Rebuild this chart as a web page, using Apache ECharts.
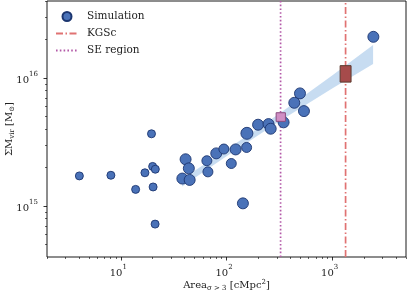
<!DOCTYPE html>
<html><head><meta charset="utf-8">
<script src="https://cdn.jsdelivr.net/npm/echarts@6/dist/echarts.min.js"></script>
<style>html,body{margin:0;padding:0;background:#fff}#c{width:409px;height:292px}</style>
</head><body><div id="c"></div>
<script>
// ---- data ----
const simArea = [4.05, 8.05, 16.9, 13.8, 19.5, 20.0, 21.2, 20.2, 21.1, 41, 44, 38.2, 44.8, 65.2, 66.7, 80, 94.4, 111, 122, 155, 156, 199, 250, 262, 347, 438, 496, 541, 2455, 143];
const simMass15 = [1.72, 1.74, 1.82, 1.35, 3.67, 2.04, 1.94, 1.41, 0.723, 2.32, 1.97, 1.64, 1.60, 2.26, 1.85, 2.58, 2.79, 2.15, 2.77, 2.87, 3.70, 4.32, 4.37, 4.02, 4.51, 6.41, 7.59, 5.52, 21.0, 1.05];
const simSize = [8, 8, 8, 8, 8, 8, 8, 8, 8, 11, 11, 11, 11, 10, 10, 11, 10, 10, 11, 10, 12, 11, 11, 11, 11, 11, 11, 11, 11, 11];
const bandArea = [38, 100, 320, 1000, 2440];
const bandLow15 = [1.42, 2.45, 4.62, 8.3, 12.85];
const bandHigh15 = [1.63, 2.75, 5.31, 10.45, 18.15];
const kgscArea = 1340;
const kgscBox = [1190, 1510, 9.3, 12.5];   // areaLo, areaHi, massLo(1e15), massHi(1e15)
const seArea = 325;
const seBox = [295, 361, 4.59, 5.36];
const xRange = [2, 5000];
const yRange = [4e14, 4e16];
const xMajor = [10, 100, 1000];
const xMinor = [2,3,4,5,6,7,8,9,20,30,40,50,60,70,80,90,200,300,400,500,600,700,800,900,2000,3000,4000,5000];
const yMajor = [1e15, 1e16];
const yMinor = [5e14,6e14,7e14,8e14,9e14,2e15,3e15,4e15,5e15,6e15,7e15,8e15,9e15,2e16,3e16,4e16];

const L = Math.log10;
const F = 'DejaVu Serif';
const xMin = L(xRange[0]), xMax = L(xRange[1]), yMin = L(yRange[0]), yMax = L(yRange[1]);

const supRich = {
  b: {fontSize: 10, fontFamily: F, color: '#222', lineHeight: 14, verticalAlign: 'bottom'},
  s: {fontSize: 7, fontFamily: F, color: '#222', lineHeight: 7, verticalAlign: 'top'}
};
const expFmt = v => '{b|10}{s|' + Math.round(v) + '}';
const hidden = {color: 'rgba(0,0,0,0)', borderWidth: 0, opacity: 0};

const chart = echarts.init(document.getElementById('c'));
chart.setOption({
  animation: false,
  grid: {left: 47, right: 3, top: 1, bottom: 35, show: true, borderColor: '#000', borderWidth: 0.9,
         backgroundColor: 'transparent', containLabel: false, outerBoundsMode: 'none'},
  legend: {
    orient: 'vertical', left: 50, top: 6, itemWidth: 22, itemHeight: 9, itemGap: 6,
    textStyle: {fontFamily: F, fontSize: 10.5, color: '#222', padding: [0, 0, 0, 4]},
    data: [
      {name: 'Simulation'},
      {name: 'KGSc', itemStyle: hidden},
      {name: 'SE region', itemStyle: hidden}
    ]
  },
  xAxis: [{
    type: 'value', min: xMin, max: xMax, position: 'bottom',
    axisLine: {show: false}, splitLine: {show: false},
    axisTick: {show: true, customValues: xMajor.map(L), length: 3.5, lineStyle: {color: '#000', width: 0.8}},
    axisLabel: {customValues: xMajor.map(L), formatter: expFmt, rich: supRich, margin: 7, padding: [0, 5, 0, 0]},
    name: '{a|Area}{sub|σ > 3}{a| [cMpc}{sup|2}{a|]}', nameLocation: 'middle', nameGap: 21.5, nameMoveOverlap: false,
    nameTextStyle: {rich: {
      a: {fontSize: 10, fontFamily: F, color: '#222', lineHeight: 13},
      sub: {fontSize: 7, fontFamily: F, color: '#222', lineHeight: 7, verticalAlign: 'bottom'},
      sup: {fontSize: 7, fontFamily: F, color: '#222', lineHeight: 7, verticalAlign: 'top'}
    }}
  }, {
    type: 'value', min: xMin, max: xMax, position: 'bottom',
    axisLine: {show: false}, splitLine: {show: false}, axisLabel: {show: false},
    axisTick: {show: true, customValues: xMinor.map(L), length: 2, lineStyle: {color: '#000', width: 0.6}}
  }],
  yAxis: [{
    type: 'value', min: yMin, max: yMax, position: 'left',
    axisLine: {show: false}, splitLine: {show: false},
    axisTick: {show: true, customValues: yMajor.map(L), length: 3.5, lineStyle: {color: '#000', width: 0.8}},
    axisLabel: {customValues: yMajor.map(L), formatter: expFmt, rich: supRich, margin: 9},
    name: '{a|ΣM}{sub|vir}{a| [M}{sub|⊙}{a|]}', nameLocation: 'middle', nameGap: 31, nameRotate: 90, nameMoveOverlap: false,
    nameTextStyle: {rich: {
      a: {fontSize: 10, fontFamily: F, color: '#222', lineHeight: 13},
      sub: {fontSize: 7, fontFamily: F, color: '#222', lineHeight: 7, verticalAlign: 'bottom'}
    }}
  }, {
    type: 'value', min: yMin, max: yMax, position: 'left',
    axisLine: {show: false}, splitLine: {show: false}, axisLabel: {show: false},
    axisTick: {show: true, customValues: yMinor.map(L), length: 2, lineStyle: {color: '#000', width: 0.6}}
  }],
  series: [
    {
      name: 'band', type: 'custom', z: 1, data: [0], silent: true,
      renderItem: (params, api) => {
        const up = bandArea.map((a, i) => api.coord([L(a), L(bandHigh15[i] * 1e15)]));
        const lo = bandArea.map((a, i) => api.coord([L(a), L(bandLow15[i] * 1e15)])).reverse();
        return {type: 'polygon', shape: {points: up.concat(lo)}, style: {fill: 'rgba(130,178,224,0.45)'}};
      }
    },
    {
      name: 'KGSc', type: 'line', z: 2, symbol: 'none', showSymbol: false,
      data: [[L(kgscArea), yMin], [L(kgscArea), yMax]],
      lineStyle: {color: '#e07272', width: 1.7, type: [7, 2.5, 1.5, 2.5]},
      itemStyle: {color: '#e07272'}
    },
    {
      name: 'SE region', type: 'line', z: 2, symbol: 'none', showSymbol: false,
      data: [[L(seArea), yMin], [L(seArea), yMax]],
      lineStyle: {color: '#b35aa8', width: 1.7, type: [1.6, 2.2]},
      itemStyle: {color: '#b35aa8'}
    },
    {
      name: 'Simulation', type: 'scatter', z: 3,
      data: simArea.map((a, i) => [L(a), L(simMass15[i] * 1e15), simSize[i]]),
      symbol: 'circle', symbolSize: v => v[2],
      itemStyle: {color: '#4a72b8', borderColor: '#1c3670', borderWidth: 0.9, opacity: 1}
    },
    {
      name: 'boxes', type: 'custom', z: 4, silent: true,
      data: [
        [L(kgscBox[0]), L(kgscBox[1]), L(kgscBox[2] * 1e15), L(kgscBox[3] * 1e15), 0],
        [L(seBox[0]), L(seBox[1]), L(seBox[2] * 1e15), L(seBox[3] * 1e15), 1]
      ],
      renderItem: (params, api) => {
        const p0 = api.coord([api.value(0), api.value(3)]);
        const p1 = api.coord([api.value(1), api.value(2)]);
        const isK = api.value(4) === 0;
        return {type: 'rect', shape: {x: p0[0], y: p0[1], width: p1[0] - p0[0], height: p1[1] - p0[1]},
          style: {fill: isK ? '#a64b4b' : '#d08ec4', stroke: isK ? '#5b3a2e' : '#8a4b7e', lineWidth: 1}};
      }
    }
  ]
});
</script></body></html>
